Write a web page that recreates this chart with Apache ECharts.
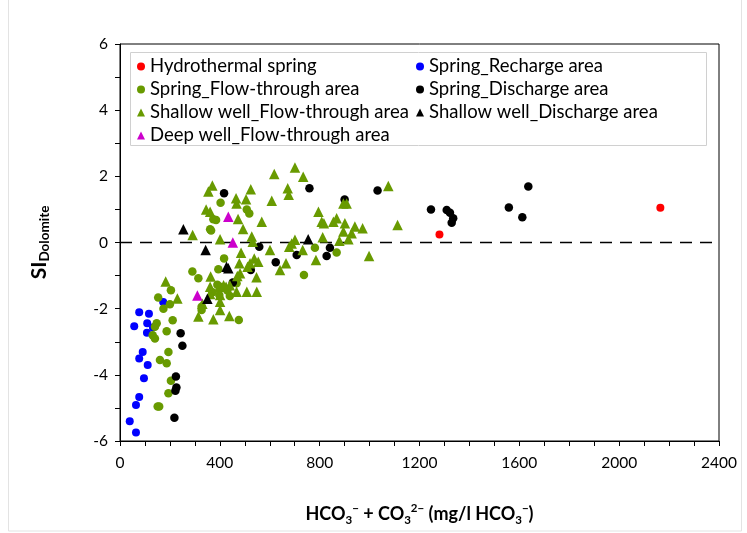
<!DOCTYPE html>
<html>
<head>
<meta charset="utf-8">
<script src="https://cdn.jsdelivr.net/npm/echarts@6/dist/echarts.min.js"></script>
<style>html,body{margin:0;padding:0;background:#fff;}#c{width:747px;height:533px;}</style>
</head>
<body>
<div id="c"></div>
<script>
const seriesNames = ['Hydrothermal spring','Spring_Recharge area','Spring_Flow-through area','Spring_Discharge area','Shallow well_Flow-through area','Shallow well_Discharge area','Deep well_Flow-through area'];
const xTicks = [0,400,800,1200,1600,2000,2400];
const yTicks = [-6,-4,-2,0,2,4,6];

const hydrothermal = [[1280,0.24],[2165,1.05]];
const springRecharge = [[173,-1.80],[77,-2.11],[116,-2.15],[57,-2.53],[109,-2.44],[108,-2.73],[132,-2.57],[91,-3.31],[77,-3.51],[111,-3.70],[96,-4.10],[77,-4.67],[64,-4.91],[39,-5.40],[64,-5.74]];
const springFlow = [[153,-1.66],[204,-1.44],[200,-1.87],[174,-2.0],[211,-2.35],[147,-2.44],[140,-2.55],[131,-2.80],[140,-2.90],[187,-2.68],[194,-3.31],[160,-3.55],[187,-3.65],[204,-4.18],[194,-4.56],[151,-4.96],[157,-4.96],
  [403,1.20],[508,1.0],[518,0.88],[374,0.70],[385,0.68],[361,0.40],[365,0.36],[417,-0.48],[290,-0.88],[314,-1.08],[394,-0.81],[390,-1.28],[401,-1.34],[467,-1.23],[781,-0.16],[868,-0.30],[737,-0.98],[327,-1.94],[327,-2.04],[398,-1.59],[476,-2.34],[430,-1.45],[440,-1.62],[370,-1.50]];
const springDischarge = [[243,-2.74],[250,-3.12],[224,-4.05],[226,-4.38],[222,-4.48],[218,-5.30],[417,1.49],[558,-0.13],[624,-0.60],[524,-0.83],[452,-1.21],[708,-0.38],[759,1.64],[1032,1.57],[841,-0.16],[828,-0.41],[900,1.30],[1246,1.0],[1309,0.98],[1322,0.90],[1335,0.73],[1329,0.60],[1558,1.06],[1612,0.76],[1636,1.69]];
const shallowFlow = [[618,2.07],[701,2.27],[734,1.99],[672,1.64],[676,1.44],[608,1.26],[370,1.72],[354,1.54],[524,1.61],[465,1.34],[467,1.18],[505,1.31],[345,1.0],[361,0.93],[473,0.71],[568,0.63],[493,0.41],[291,0.23],[401,0.10],[528,0.18],[532,0.02],[601,-0.23],[485,-0.31],[538,-0.48],[521,-0.63],[554,-0.58],[478,-0.63],[363,-1.03],[481,-0.93],[470,-1.01],[547,-1.05],[665,-0.63],[641,-0.83],[511,-0.73],[183,-1.18],[361,-1.34],[398,-1.34],[425,-1.34],[467,-1.49],[508,-1.49],[548,-1.49],[701,0.08],[678,-0.13],
  [1075,1.71],[895,1.18],[908,1.18],[795,0.93],[808,0.63],[817,0.58],[855,0.63],[868,0.73],[901,0.58],[895,0.33],[941,0.48],[972,0.43],[928,0.28],[812,0.16],[879,0.05],[915,0.10],[1112,0.53],[998,-0.41],[732,-0.23],[785,-0.53],[688,-0.03],
  [230,-1.69],[401,-1.59],[401,-1.79],[401,-2.04],[314,-2.24],[374,-2.32],[438,-2.22],[361,-1.56],[440,-1.29],[415,-1.29],[330,-1.85]];
const shallowDischarge = [[254,0.40],[343,-0.23],[427,-0.73],[434,-0.78],[350,-1.70],[754,0.10]];
const deepFlow = [[434,0.78],[452,0.0],[310,-1.60]];
const zeroLine = [[0,0],[2400,0]];

const GREEN = '#689a00';
const FONT = 'Lato';

const chart = echarts.init(document.getElementById('c'));
function sc(name, data, symbol, color, size) {
  return {name, type:'scatter', data, symbol, symbolSize:size, itemStyle:{color, opacity:1}, silent:true, z:3};
}
const legendCommon = {orient:'vertical', itemWidth:8, itemHeight:8, itemGap:4, padding:0,
  textStyle:{fontFamily:FONT, fontSize:18.5, color:'#000', lineHeight:16}, selectedMode:false};
const mainT = {fontFamily:FONT, fontSize:18, fontWeight:'bold', color:'#000', lineHeight:24, verticalAlign:'middle'};
const subT = {fontFamily:FONT, fontSize:11.5, fontWeight:'bold', color:'#000', lineHeight:11, verticalAlign:'bottom'};
const supT = {fontFamily:FONT, fontSize:11.5, fontWeight:'bold', color:'#000', lineHeight:11, verticalAlign:'top'};
chart.setOption({
  animation:false,
  textStyle:{fontFamily:FONT},
  grid:{left:120,right:28,top:44,bottom:92,show:true,borderColor:'#000',borderWidth:1,backgroundColor:'transparent'},
  legend:[
    Object.assign({left:137, top:57, data:[
      {name:seriesNames[0],icon:'circle'},{name:seriesNames[2],icon:'circle'},{name:seriesNames[4],icon:'triangle'},{name:seriesNames[6],icon:'triangle'}]}, legendCommon),
    Object.assign({left:416, top:57, data:[
      {name:seriesNames[1],icon:'circle'},{name:seriesNames[3],icon:'circle'},{name:seriesNames[5],icon:'triangle'}]}, legendCommon)
  ],
  graphic:[
    {type:'rect', shape:{x:130.5,y:52.5,width:576,height:93}, style:{fill:'none',stroke:'#d0d0d0',lineWidth:1}, z:10},
    {type:'rect', shape:{x:8.5,y:-2,width:733,height:533}, style:{fill:'none',stroke:'#e3e3e3',lineWidth:1}, z:0}
  ],
  xAxis:{type:'value', min:xTicks[0], max:xTicks[xTicks.length-1], interval:400,
    name:'{m|HCO}{s|3}{p|−}{m| + CO}{s|3}{p|2−}{m| (mg/l HCO}{s|3}{p|−}{m|)}', nameLocation:'middle', nameGap:61,
    nameTextStyle:{rich:{m:mainT, s:subT, p:supT}},
    axisLine:{onZero:false, lineStyle:{color:'#000',width:1}},
    axisTick:{show:true, inside:false, length:5, lineStyle:{color:'#000'}},
    minorTick:{show:true, splitNumber:4, length:5, lineStyle:{color:'#000'}},
    splitLine:{show:false},
    axisLabel:{fontFamily:FONT, fontSize:15.5, color:'#000', margin:14, formatter:v=>String(v)}},
  yAxis:{type:'value', min:yTicks[0], max:yTicks[yTicks.length-1], interval:2,
    name:'{a|SI}{b|Dolomite}', nameLocation:'middle', nameGap:68, nameRotate:90,
    nameTextStyle:{rich:{a:{fontFamily:FONT,fontSize:21,fontWeight:'bold',color:'#000',lineHeight:26,verticalAlign:'middle'},
      b:{fontFamily:FONT,fontSize:13.5,fontWeight:'bold',color:'#000',lineHeight:14,verticalAlign:'bottom'}}},
    axisLine:{onZero:false, lineStyle:{color:'#000',width:1}},
    axisTick:{show:true, inside:false, length:5, lineStyle:{color:'#000'}},
    minorTick:{show:true, splitNumber:2, length:5, lineStyle:{color:'#000'}},
    splitLine:{show:false},
    axisLabel:{fontFamily:FONT, fontSize:15.5, color:'#000', margin:12, formatter:v=>String(v)}},
  series:[
    {name:'zero', type:'line', data:zeroLine, symbol:'none', silent:true, z:2,
      lineStyle:{color:'#000', width:1.5, type:[12,8]}},
    sc(seriesNames[0], hydrothermal, 'circle', '#ff0000', 8),
    sc(seriesNames[1], springRecharge, 'circle', '#0000ff', 8),
    sc(seriesNames[2], springFlow, 'circle', GREEN, 8.5),
    sc(seriesNames[3], springDischarge, 'circle', '#000000', 8.5),
    sc(seriesNames[4], shallowFlow, 'triangle', GREEN, 10.5),
    sc(seriesNames[5], shallowDischarge, 'triangle', '#000000', 10.5),
    sc(seriesNames[6], deepFlow, 'triangle', '#cc00cc', 10.5)
  ]
});
</script>
</body>
</html>
